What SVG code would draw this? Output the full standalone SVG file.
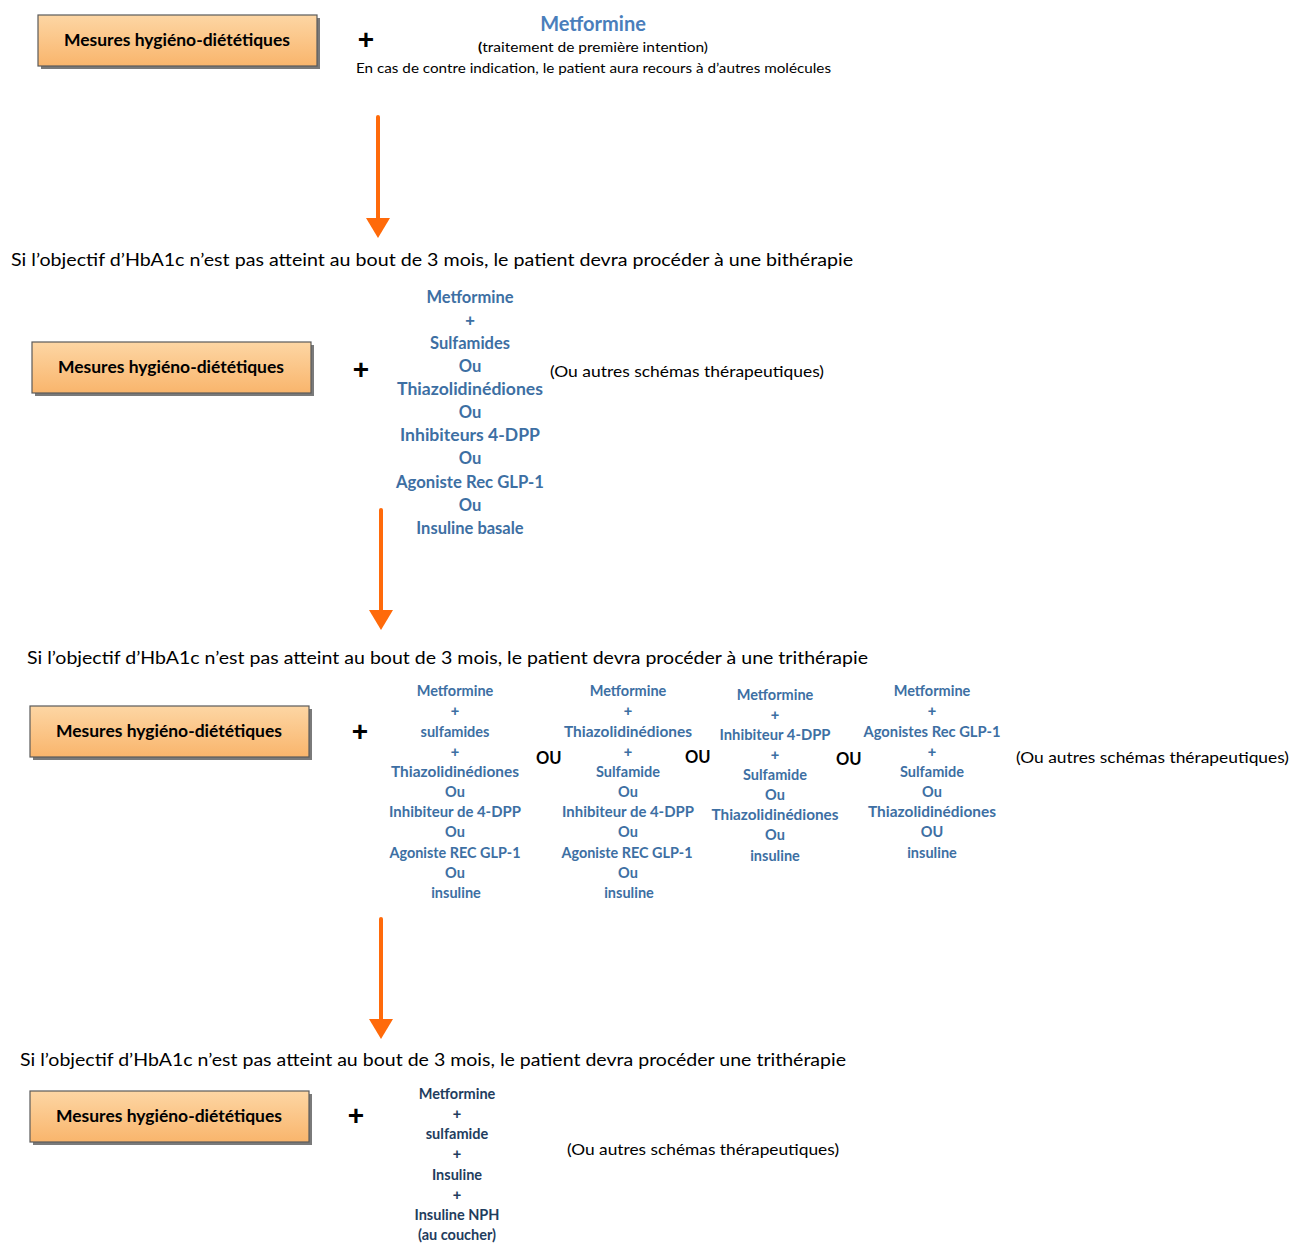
<svg xmlns="http://www.w3.org/2000/svg" width="1291" height="1244" viewBox="0 0 1291 1244" xml:space="preserve">
<style>
.box{fill:url(#og);stroke:#5a5a5a;stroke-width:1.2}
.shd{fill:#7a7a7a}
.bt{font-family:Lato,"Liberation Sans",sans-serif;font-weight:bold;font-size:17px;fill:#000;text-anchor:middle}
.plus{font-family:"Liberation Sans",sans-serif;font-weight:bold;font-size:28px;fill:#000;text-anchor:middle}
.sent{font-family:Lato,"Liberation Sans",sans-serif;font-size:18px;fill:#000}
.par{font-family:Lato,"Liberation Sans",sans-serif;font-size:16px;fill:#000}
.b2{font-family:Lato,"Liberation Sans",sans-serif;font-weight:bold;font-size:16.5px;fill:#3d6fa3;text-anchor:middle}
.b3{font-family:Lato,"Liberation Sans",sans-serif;font-weight:bold;font-size:14.5px;fill:#3d6fa3;text-anchor:middle}
.b4{font-family:Lato,"Liberation Sans",sans-serif;font-weight:bold;font-size:14.5px;fill:#1f3d5e;text-anchor:middle}
.pl{font-family:"Liberation Sans",sans-serif}
.ou{font-family:Lato,"Liberation Sans",sans-serif;font-weight:bold;font-size:16.5px;fill:#000}
.arr{stroke:#ff6a0a;stroke-width:4;stroke-linecap:round;fill:none}
</style>
<defs>
<linearGradient id="og" x1="0" y1="0" x2="0" y2="1">
<stop offset="0" stop-color="#fdd6a4"/>
<stop offset="1" stop-color="#f9b56c"/>
</linearGradient>
<marker id="ah" markerWidth="5" markerHeight="6" refX="1" refY="3" orient="auto" markerUnits="strokeWidth">
<path d="M0,0 L5,3 L0,6 Z" fill="#ff6a0a"/>
</marker>
</defs>
<rect width="1291" height="1244" fill="#fff"/>

<g id="step1">
<g id="box1">
<rect class="shd" x="41" y="18" width="279" height="51"/>
<rect class="box" x="38" y="15" width="279" height="51"/>
<text class="bt" x="177" y="46" textLength="226" lengthAdjust="spacingAndGlyphs">Mesures hygiéno-diététiques</text>
</g>
<text class="plus" x="366" y="49">+</text>
<g id="metformine1">
<text x="593" y="31" font-family="Lato,'Liberation Sans',sans-serif" font-weight="bold" font-size="20" fill="#4a7ebb" text-anchor="middle">Metformine</text>
<text x="593" y="52" font-family="Lato,'Liberation Sans',sans-serif" font-size="14" fill="#000" text-anchor="middle" textLength="230" lengthAdjust="spacingAndGlyphs"><tspan font-weight="bold">(</tspan>traitement de première intention)</text>
<text x="356" y="73" font-family="Lato,'Liberation Sans',sans-serif" font-size="14" fill="#000" textLength="475" lengthAdjust="spacingAndGlyphs">En cas de contre indication, le patient aura recours à d’autres molécules</text>
</g>
</g>

<g id="connectors">
<line class="arr" x1="378" y1="117" x2="378" y2="222" marker-end="url(#ah)"/>
<line class="arr" x1="381" y1="510" x2="381" y2="614" marker-end="url(#ah)"/>
<line class="arr" x1="381" y1="919" x2="381" y2="1023" marker-end="url(#ah)"/>
</g>

<text class="sent" x="11" y="266" textLength="842" lengthAdjust="spacingAndGlyphs">Si l’objectif d’HbA1c n’est pas atteint au bout de 3 mois, le patient devra procéder à  une bithérapie</text>

<g id="step2">
<g id="box2">
<rect class="shd" x="35" y="345" width="279" height="51"/>
<rect class="box" x="32" y="342" width="279" height="51"/>
<text class="bt" x="171" y="373" textLength="226" lengthAdjust="spacingAndGlyphs">Mesures hygiéno-diététiques</text>
</g>
<text class="plus" x="361" y="379">+</text>
<g id="bitherapie">
<text class="b2" x="470" y="303">Metformine</text>
<text class="b2 pl" x="470" y="326">+</text>
<text class="b2" x="470" y="349">Sulfamides</text>
<text class="b2" x="470" y="372">Ou</text>
<text class="b2" x="470" y="395" textLength="146" lengthAdjust="spacingAndGlyphs">Thiazolidinédiones</text>
<text class="b2" x="470" y="418">Ou</text>
<text class="b2" x="470" y="441" textLength="140" lengthAdjust="spacingAndGlyphs">Inhibiteurs  4-DPP</text>
<text class="b2" x="470" y="464">Ou</text>
<text class="b2" x="470" y="488" textLength="148" lengthAdjust="spacingAndGlyphs">Agoniste Rec GLP-1</text>
<text class="b2" x="470" y="511">Ou</text>
<text class="b2" x="470" y="534">Insuline basale</text>
</g>
<text class="par" x="550" y="377" textLength="274" lengthAdjust="spacingAndGlyphs">(Ou autres schémas thérapeutiques)</text>
</g>

<text class="sent" x="27" y="664" textLength="841" lengthAdjust="spacingAndGlyphs">Si l’objectif d’HbA1c n’est pas atteint au bout de 3 mois, le patient devra procéder à une trithérapie</text>

<g id="step3">
<g id="box3">
<rect class="shd" x="33" y="709" width="279" height="51"/>
<rect class="box" x="30" y="706" width="279" height="51"/>
<text class="bt" x="169" y="737" textLength="226" lengthAdjust="spacingAndGlyphs">Mesures hygiéno-diététiques</text>
</g>
<text class="plus" x="360" y="741">+</text>
<g id="tri1">
<text class="b3" x="455" y="696">Metformine</text>
<text class="b3 pl" x="455" y="716">+</text>
<text class="b3" x="455" y="737">sulfamides</text>
<text class="b3 pl" x="455" y="757">+</text>
<text class="b3" x="455" y="777" textLength="128" lengthAdjust="spacingAndGlyphs">Thiazolidinédiones</text>
<text class="b3" x="455" y="797">Ou</text>
<text class="b3" x="455" y="817" textLength="132" lengthAdjust="spacingAndGlyphs">Inhibiteur de 4-DPP</text>
<text class="b3" x="455" y="837">Ou</text>
<text class="b3" x="455" y="858" textLength="131" lengthAdjust="spacingAndGlyphs">Agoniste REC GLP-1</text>
<text class="b3" x="455" y="878">Ou</text>
<text class="b3" x="456" y="898">insuline</text>
</g>
<text class="ou" x="536" y="764">OU</text>
<g id="tri2">
<text class="b3" x="628" y="696">Metformine</text>
<text class="b3 pl" x="628" y="716">+</text>
<text class="b3" x="628" y="737" textLength="128" lengthAdjust="spacingAndGlyphs">Thiazolidinédiones</text>
<text class="b3 pl" x="628" y="757">+</text>
<text class="b3" x="628" y="777">Sulfamide</text>
<text class="b3" x="628" y="797">Ou</text>
<text class="b3" x="628" y="817" textLength="132" lengthAdjust="spacingAndGlyphs">Inhibiteur de 4-DPP</text>
<text class="b3" x="628" y="837">Ou</text>
<text class="b3" x="627" y="858" textLength="131" lengthAdjust="spacingAndGlyphs">Agoniste REC GLP-1</text>
<text class="b3" x="628" y="878">Ou</text>
<text class="b3" x="629" y="898">insuline</text>
</g>
<text class="ou" x="685" y="763">OU</text>
<g id="tri3">
<text class="b3" x="775" y="700">Metformine</text>
<text class="b3 pl" x="775" y="720">+</text>
<text class="b3" x="775" y="740" textLength="111" lengthAdjust="spacingAndGlyphs">Inhibiteur 4-DPP</text>
<text class="b3 pl" x="775" y="760">+</text>
<text class="b3" x="775" y="780">Sulfamide</text>
<text class="b3" x="775" y="800">Ou</text>
<text class="b3" x="775" y="820" textLength="127" lengthAdjust="spacingAndGlyphs">Thiazolidinédiones</text>
<text class="b3" x="775" y="840">Ou</text>
<text class="b3" x="775" y="861">insuline</text>
</g>
<text class="ou" x="836" y="765">OU</text>
<g id="tri4">
<text class="b3" x="932" y="696">Metformine</text>
<text class="b3 pl" x="932" y="716">+</text>
<text class="b3" x="932" y="737" textLength="137" lengthAdjust="spacingAndGlyphs">Agonistes Rec GLP-1</text>
<text class="b3 pl" x="932" y="757">+</text>
<text class="b3" x="932" y="777">Sulfamide</text>
<text class="b3" x="932" y="797">Ou</text>
<text class="b3" x="932" y="817" textLength="128" lengthAdjust="spacingAndGlyphs">Thiazolidinédiones</text>
<text class="b3" x="932" y="837">OU</text>
<text class="b3" x="932" y="858">insuline</text>
</g>
<text class="par" x="1016" y="763" textLength="273" lengthAdjust="spacingAndGlyphs">(Ou autres schémas thérapeutiques)</text>
</g>

<text class="sent" x="20" y="1066" textLength="826" lengthAdjust="spacingAndGlyphs">Si l’objectif d’HbA1c n’est pas atteint au bout de 3 mois, le patient devra procéder une trithérapie</text>

<g id="step4">
<g id="box4">
<rect class="shd" x="33" y="1094" width="279" height="51"/>
<rect class="box" x="30" y="1091" width="279" height="51"/>
<text class="bt" x="169" y="1122" textLength="226" lengthAdjust="spacingAndGlyphs">Mesures hygiéno-diététiques</text>
</g>
<text class="plus" x="356" y="1125">+</text>
<g id="quad">
<text class="b4" x="457" y="1099">Metformine</text>
<text class="b4 pl" x="457" y="1119">+</text>
<text class="b4" x="457" y="1139">sulfamide</text>
<text class="b4 pl" x="457" y="1159">+</text>
<text class="b4" x="457" y="1180">Insuline</text>
<text class="b4 pl" x="457" y="1200">+</text>
<text class="b4" x="457" y="1220">Insuline NPH</text>
<text class="b4" x="457" y="1240">(au coucher)</text>
</g>
<text class="par" x="567" y="1155" textLength="272" lengthAdjust="spacingAndGlyphs">(Ou autres schémas thérapeutiques)</text>
</g>
</svg>
